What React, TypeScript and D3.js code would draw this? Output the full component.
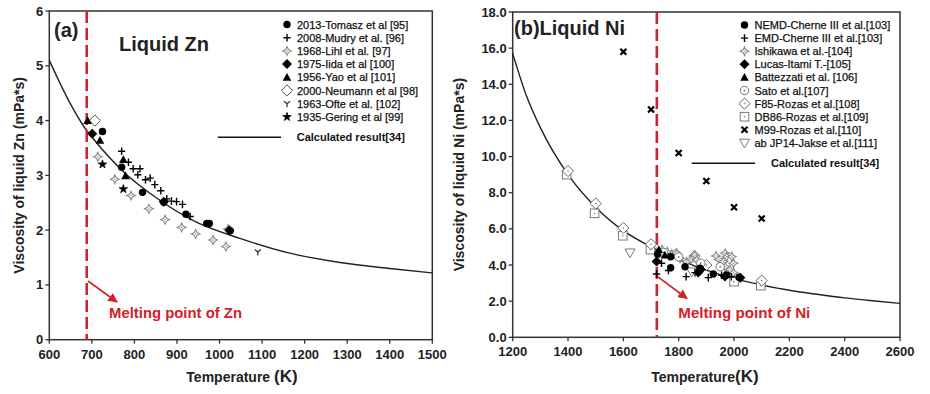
import React from 'react';
import * as d3 from 'd3';

type Pt = [number, number];

// ---------- Panel (a): liquid Zn ----------
const znTicksX = [600, 700, 800, 900, 1000, 1100, 1200, 1300, 1400, 1500];
const znTicksY = [0, 1, 2, 3, 4, 5, 6];
const znMelting = 688;
const znCurve: Pt[] = [[600, 5.1], [650, 4.3], [684, 3.86], [700, 3.7], [778, 3.04], [848, 2.61], [942, 2.16], [1048, 1.85], [1165, 1.58], [1283, 1.41], [1400, 1.3], [1500, 1.22]];
const znTomasz: Pt[] = [[725, 3.8], [770, 3.15], [819, 2.69], [869, 2.51], [921, 2.29], [970, 2.12], [976, 2.12], [1025, 1.99]];
const znMudry: Pt[] = [[770, 3.44], [786, 3.24], [797, 3.12], [808, 3.01], [813, 3.12], [826, 2.92], [837, 2.95], [848, 2.83], [862, 2.72], [876, 2.57], [887, 2.53], [899, 2.52], [913, 2.47], [931, 2.25]];
const znLihl: Pt[] = [[714, 3.34], [754, 2.93], [792, 2.63], [834, 2.39], [872, 2.19], [911, 2.05], [944, 1.93], [985, 1.82], [1015, 1.7], [1020, 2.02]];
const znIida: Pt[] = [[701, 3.76], [869, 2.52], [1023, 2.0]];
const znYao: Pt[] = [[690, 4.0], [719, 3.64], [774, 3.29], [779, 2.99]];
const znNeumann: Pt[] = [[707, 4.0]];
const znOfte: Pt[] = [[1090, 1.6]];
const znGering: Pt[] = [[725, 3.2], [774, 2.75]];
const znLegend = ['2013-Tomasz et al [95]', '2008-Mudry et al. [96]', '1968-Lihl et al. [97]', '1975-Iida  et al [100]', '1956-Yao et al [101]', '2000-Neumann  et al [98]', '1963-Ofte et al. [102]', '1935-Gering et al [99]'];
const znLegendMarks = ['dot', 'plus', 'star4', 'diamondF', 'triF', 'diamondO', 'wye', 'gear'];

// ---------- Panel (b): liquid Ni ----------
const niTicksX = [1200, 1400, 1600, 1800, 2000, 2200, 2400, 2600];
const niTicksY = [0, 2, 4, 6, 8, 10, 12, 14, 16, 18];
const niMelting = 1721;
const niCurve: Pt[] = [[1200, 15.7], [1250, 13.35], [1300, 11.6], [1400, 9.0], [1500, 7.2], [1600, 5.9], [1700, 5.0], [1800, 4.3], [1900, 3.72], [2000, 3.25], [2100, 2.9], [2200, 2.6], [2300, 2.38], [2400, 2.18], [2500, 2.02], [2600, 1.88]];
const niNEMD: Pt[] = [[1724, 4.6], [1771, 4.46], [1771, 3.85], [1823, 3.9], [1877, 3.82], [1925, 3.5], [1973, 3.45], [2018, 3.32]];
const niEMD: Pt[] = [[1720, 3.5], [1738, 4.1], [1763, 3.7], [1827, 3.36], [1859, 3.58], [1907, 3.3], [1955, 3.43], [1990, 3.35]];
const niIshikawa: Pt[] = [[1740, 4.85], [1759, 4.74], [1775, 4.6], [1793, 4.65], [1805, 4.37], [1829, 4.18], [1845, 4.3], [1859, 4.55], [1865, 4.28], [1935, 4.5], [1945, 4.3], [1961, 4.18], [1968, 4.65], [1974, 4.46], [1992, 4.46], [1998, 4.1], [1968, 3.9], [1998, 3.58], [1985, 3.75]];
const niLucas: Pt[] = [[1720, 4.19], [1871, 3.58], [1880, 3.75], [1967, 3.36], [2023, 3.3]];
const niBattezzati: Pt[] = [[1728, 4.85], [1750, 4.55]];
const niSato: Pt[] = [[1745, 4.7], [1800, 4.45], [1880, 4.1], [1950, 3.9]];
const niF85: Pt[] = [[1400, 9.2], [1500, 7.4], [1600, 6.05], [1700, 5.15], [1790, 4.6], [1857, 4.48], [1900, 4.0], [2100, 3.14]];
const niDB86: Pt[] = [[1395, 9.0], [1496, 6.86], [1598, 5.62], [1698, 4.85], [2000, 3.08], [2097, 2.86]];
const niM99: Pt[] = [[1600, 15.8], [1700, 12.6], [1800, 10.2], [1900, 8.65], [2000, 7.2], [2100, 6.57]];
const niJP14: Pt[] = [[1624, 4.68], [1847, 3.63]];
const niLegend = ['NEMD-Cherne III et al.[103]', 'EMD-Cherne III et al.[103]', 'Ishikawa et al.-[104]', 'Lucas-Itami T.-[105]', 'Battezzati et al. [106]', 'Sato et al.[107]', 'F85-Rozas et al.[108]', 'DB86-Rozas et al.[109]', 'M99-Rozas et al.[110]', 'ab JP14-Jakse et al.[111]'];
const niLegendMarks = ['dot', 'plus', 'star4', 'diamondF', 'triF', 'circleDot', 'diamondDot', 'squareDot', 'x', 'triDownO'];

const FONT = "'Liberation Sans', Arial, sans-serif";
const RED = '#d42027';

function Marker({ t, x, y }: { t: string; x: number; y: number }) {
  switch (t) {
    case 'dot':
      return <circle cx={x} cy={y} r={3.7} fill="#000" />;
    case 'plus':
      return <path d={`M${x - 3.6},${y}H${x + 3.6}M${x},${y - 3.8}V${y + 3.8}`} stroke="#000" strokeWidth={1.4} />;
    case 'star4': {
      const s = 4.4, k = 1.4;
      return (
        <g>
          <path d={`M${x},${y - s}L${x + k},${y - k}L${x + s},${y}L${x + k},${y + k}L${x},${y + s}L${x - k},${y + k}L${x - s},${y}L${x - k},${y - k}Z`} fill="#fff" stroke="#8a8a8a" strokeWidth={1.1} />
          <circle cx={x} cy={y} r={0.8} fill="#999" />
        </g>
      );
    }
    case 'diamondF': {
      const s = 5;
      return <path d={`M${x},${y - s}L${x + s},${y}L${x},${y + s}L${x - s},${y}Z`} fill="#000" />;
    }
    case 'triF': {
      const s = 4.3;
      return <path d={`M${x},${y - s}L${x + s},${y + s * 0.8}L${x - s},${y + s * 0.8}Z`} fill="#000" />;
    }
    case 'diamondO': {
      const s = 5.6;
      return <path d={`M${x},${y - s}L${x + s},${y}L${x},${y + s}L${x - s},${y}Z`} fill="#fff" stroke="#555" strokeWidth={1} />;
    }
    case 'wye':
      return <path d={`M${x - 3},${y - 2.5}L${x},${y}L${x + 3},${y - 2.5}M${x},${y}V${y + 3.5}`} stroke="#333" strokeWidth={1.3} fill="none" />;
    case 'gear': {
      const p = d3.symbol(d3.symbolStar, 22)() as string;
      return <path d={p} transform={`translate(${x},${y})`} fill="#000" stroke="#000" strokeWidth={0.8} />;
    }
    case 'x':
      return <path d={`M${x - 3},${y - 3}L${x + 3},${y + 3}M${x + 3},${y - 3}L${x - 3},${y + 3}`} stroke="#000" strokeWidth={2.2} />;
    case 'circleDot':
      return (
        <g>
          <circle cx={x} cy={y} r={4.2} fill="#fff" stroke="#777" strokeWidth={1} />
          <circle cx={x} cy={y} r={0.9} fill="#777" />
        </g>
      );
    case 'diamondDot': {
      const s = 5.6;
      return (
        <g>
          <path d={`M${x},${y - s}L${x + s},${y}L${x},${y + s}L${x - s},${y}Z`} fill="#fff" stroke="#666" strokeWidth={1} />
          <circle cx={x} cy={y} r={0.8} fill="#777" />
        </g>
      );
    }
    case 'squareDot': {
      const s = 4.3;
      return (
        <g>
          <rect x={x - s} y={y - s} width={2 * s} height={2 * s} fill="#fff" stroke="#777" strokeWidth={1} />
          <circle cx={x} cy={y} r={0.8} fill="#777" />
        </g>
      );
    }
    case 'triDownO': {
      const s = 5;
      return <path d={`M${x - s},${y - s * 0.75}L${x + s},${y - s * 0.75}L${x},${y + s}Z`} fill="#fff" stroke="#777" strokeWidth={1} />;
    }
  }
  return null;
}

interface PanelProps {
  left: number; right: number; top: number; bottom: number;
  xDomain: [number, number]; yDomain: [number, number];
  xTicks: number[]; yTicks: number[]; yFmt: (v: number) => string;
  curve: Pt[];
  series: { t: string; pts: Pt[] }[];
  melting: number;
  arrow: [number, number, number, number];
  meltText: string; meltX: number; meltW: number;
  yTitle: string; yTitleX: number;
  xTitle: string; xTitleX: number; xTitleParen: string;
  legendX: number; legendY0: number; legendDy: number;
  legendLabels: string[]; legendMarks: string[];
  calcY: number; calcX1: number; calcX2: number; calcTextX: number;
  children?: React.ReactNode;
}

function Panel(p: PanelProps) {
  const x = d3.scaleLinear().domain(p.xDomain).range([p.left, p.right]);
  const y = d3.scaleLinear().domain(p.yDomain).range([p.bottom, p.top]);
  const line = d3.line<Pt>().x(d => x(d[0])).y(d => y(d[1])).curve(d3.curveMonotoneX);
  const mx = x(p.melting);
  return (
    <g>
      <defs>
        <marker id={`ah${Math.round(p.left)}`} viewBox="0 0 10 10" refX="9" refY="5" markerWidth="6" markerHeight="6" orient="auto">
          <path d="M0,0L10,5L0,10Z" fill={RED} />
        </marker>
      </defs>
      <rect x={p.left} y={p.top} width={p.right - p.left} height={p.bottom - p.top} fill="#fff" stroke="#333" strokeWidth={1.5} />
      {p.xTicks.map(v => (
        <g key={'xt' + v}>
          <line x1={x(v)} x2={x(v)} y1={p.bottom} y2={p.bottom + 4} stroke="#333" strokeWidth={1.3} />
          <text x={x(v)} y={p.bottom + 19} textAnchor="middle" fontFamily={FONT} fontWeight="bold" fontSize={13} fill="#222">{v}</text>
        </g>
      ))}
      {p.yTicks.map(v => (
        <g key={'yt' + v}>
          <line x1={p.left - 4} x2={p.left} y1={y(v)} y2={y(v)} stroke="#333" strokeWidth={1.3} />
          <text x={p.left - 6} y={y(v) + 4.5} textAnchor="end" fontFamily={FONT} fontWeight="bold" fontSize={13} fill="#222">{p.yFmt(v)}</text>
        </g>
      ))}
      <path d={line(p.curve) as string} fill="none" stroke="#222" strokeWidth={1.4} />
      <line x1={mx} x2={mx} y1={p.top} y2={p.bottom} stroke={RED} strokeWidth={2.6} strokeDasharray="12,5" />
      {p.series.map((s, i) => (
        <g key={'s' + i}>
          {s.pts.map((d, j) => <Marker key={j} t={s.t} x={x(d[0])} y={y(d[1])} />)}
        </g>
      ))}
      <line x1={p.arrow[0]} y1={p.arrow[1]} x2={p.arrow[2]} y2={p.arrow[3]} stroke={RED} strokeWidth={1.6} markerEnd={`url(#ah${Math.round(p.left)})`} />
      <text x={p.meltX} y={318} fontFamily={FONT} fontWeight="bold" fontSize={14.5} fill={RED} textLength={p.meltW} lengthAdjust="spacingAndGlyphs">{p.meltText}</text>
      {p.legendLabels.map((l, i) => (
        <g key={'lg' + i}>
          <Marker t={p.legendMarks[i]} x={p.legendX} y={p.legendY0 + i * p.legendDy} />
          <text x={p.legendX + 10} y={p.legendY0 + i * p.legendDy + 4} fontFamily={FONT} fontSize={11} fill="#111" stroke="#111" strokeWidth={0.25}>{l}</text>
        </g>
      ))}
      <line x1={p.calcX1} x2={p.calcX2} y1={p.calcY} y2={p.calcY} stroke="#111" strokeWidth={1.5} />
      <text x={p.calcTextX} y={p.calcY + 4} fontFamily={FONT} fontWeight="bold" fontSize={11} fill="#111">Calculated result[34]</text>
      <text transform={`translate(${p.yTitleX},${(p.top + p.bottom) / 2}) rotate(-90)`} textAnchor="middle" fontFamily={FONT} fontWeight="bold" fontSize={14} fill="#222">{p.yTitle}</text>
      <text x={p.xTitleX} y={382} textAnchor="middle" fontFamily={FONT} fontWeight="bold" fontSize={14} fill="#222">{p.xTitle}<tspan fontSize={17}>{p.xTitleParen}</tspan></text>
      {p.children}
    </g>
  );
}

export default function App() {
  return (
    <svg width={930} height={394} style={{ position: 'absolute', left: 0, top: 0, background: '#fff' }} xmlns="http://www.w3.org/2000/svg">
      <rect width={930} height={394} fill="#fff" />
      <Panel
        left={49.3} right={432.3} top={11} bottom={339.7}
        xDomain={[600, 1500]} yDomain={[0, 6]}
        xTicks={znTicksX} yTicks={znTicksY} yFmt={v => String(v)}
        curve={znCurve}
        series={[
          { t: 'star4', pts: znLihl },
          { t: 'diamondO', pts: znNeumann },
          { t: 'wye', pts: znOfte },
          { t: 'gear', pts: znGering },
          { t: 'triF', pts: znYao },
          { t: 'dot', pts: znTomasz },
          { t: 'diamondF', pts: znIida },
          { t: 'plus', pts: znMudry },
        ]}
        melting={znMelting}
        arrow={[88, 281, 117, 302]}
        meltText="Melting point of Zn" meltX={109} meltW={133}
        yTitle="Viscosity of liquid Zn (mPa*s)" yTitleX={24}
        xTitle="Temperature " xTitleParen="(K)" xTitleX={242}
        legendX={287} legendY0={24.5} legendDy={13.2}
        legendLabels={znLegend} legendMarks={znLegendMarks}
        calcY={137.3} calcX1={217.7} calcX2={281} calcTextX={296.7}
      >
        <text x={54} y={37} fontFamily={FONT} fontWeight="bold" fontSize={20} fill="#222">(a)</text>
        <text x={119} y={51} fontFamily={FONT} fontWeight="bold" fontSize={20} fill="#222">Liquid Zn</text>
      </Panel>
      <Panel
        left={512.7} right={900} top={12} bottom={337.3}
        xDomain={[1200, 2600]} yDomain={[0, 18]}
        xTicks={niTicksX} yTicks={niTicksY} yFmt={v => v.toFixed(1)}
        curve={niCurve}
        series={[
          { t: 'squareDot', pts: niDB86 },
          { t: 'diamondDot', pts: niF85 },
          { t: 'triDownO', pts: niJP14 },
          { t: 'star4', pts: niIshikawa },
          { t: 'circleDot', pts: niSato },
          { t: 'triF', pts: niBattezzati },
          { t: 'dot', pts: niNEMD },
          { t: 'diamondF', pts: niLucas },
          { t: 'plus', pts: niEMD },
          { t: 'x', pts: niM99 },
        ]}
        melting={niMelting}
        arrow={[657.7, 276.7, 687, 298.5]}
        meltText="Melting point of Ni" meltX={678.3} meltW={132}
        yTitle="Viscosity of liquid Ni (mPa*s)" yTitleX={464}
        xTitle="Temperature" xTitleParen="(K)" xTitleX={705}
        legendX={744.5} legendY0={25} legendDy={13.1}
        legendLabels={niLegend} legendMarks={niLegendMarks}
        calcY={163.3} calcX1={691.7} calcX2={755} calcTextX={771}
      >
        <text x={514} y={34.5} fontFamily={FONT} fontWeight="bold" fontSize={20} fill="#222">(b)Liquid Ni</text>
      </Panel>
    </svg>
  );
}
